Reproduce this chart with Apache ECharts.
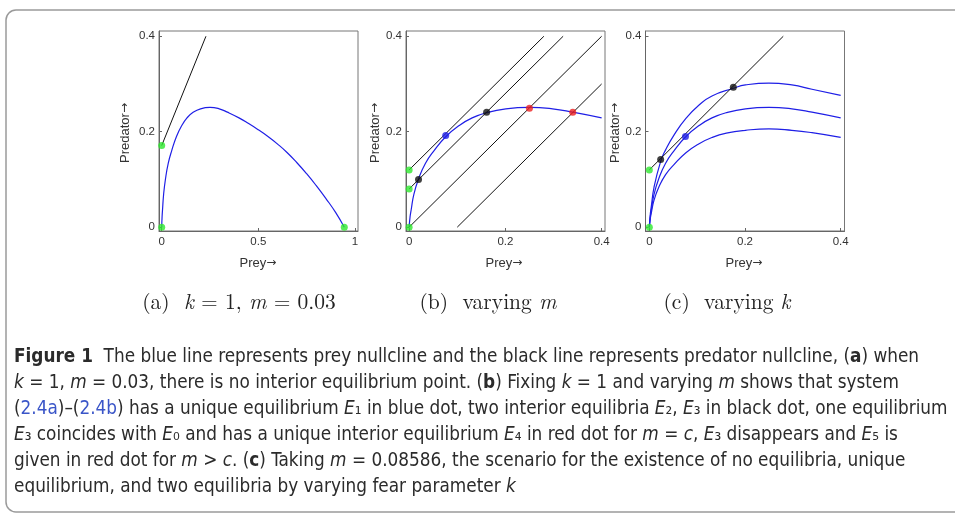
<!DOCTYPE html>
<html>
<head>
<meta charset="utf-8">
<script src="https://cdn.jsdelivr.net/npm/echarts@6/dist/echarts.min.js"></script>
<style>
html, body { margin: 0; padding: 0; background: #fff; }
#main { width: 955px; height: 514px; }
</style>
</head>
<body>
<div id="main"></div>
<script>
// tick values
var ticksXA = [0, 0.5, 1];
var ticksXBC = [0, 0.2, 0.4];
var ticksY = [0, 0.2, 0.4];

// prey nullclines
var preyK1 = [[0, 0], [0.002, 0.022], [0.0042, 0.036], [0.0097, 0.068], [0.0195, 0.101], [0.034, 0.134],
  [0.0515, 0.160], [0.0765, 0.190], [0.104, 0.213], [0.131, 0.229], [0.161, 0.240], [0.201, 0.248],
  [0.25, 0.251], [0.298, 0.248], [0.34, 0.241], [0.4, 0.229], [0.45, 0.217], [0.5, 0.204], [0.55, 0.190],
  [0.6, 0.174], [0.65, 0.156], [0.7, 0.135], [0.75, 0.112], [0.8, 0.087], [0.85, 0.060], [0.9, 0.031], [0.945, 0]];
var preyKLow = [[0, 0], [0.002, 0.027], [0.0042, 0.044], [0.0097, 0.083], [0.0237, 0.138], [0.034, 0.162],
  [0.0515, 0.193], [0.0765, 0.228], [0.104, 0.256], [0.131, 0.275], [0.1756, 0.291], [0.201, 0.298],
  [0.25, 0.302], [0.298, 0.298], [0.34, 0.289], [0.4, 0.276]];
var preyKHigh = [[0, 0], [0.002, 0.018], [0.0042, 0.030], [0.0097, 0.056], [0.0195, 0.083], [0.034, 0.110],
  [0.0515, 0.131], [0.0765, 0.156], [0.104, 0.175], [0.131, 0.188], [0.161, 0.197], [0.201, 0.203],
  [0.25, 0.206], [0.298, 0.203], [0.34, 0.198], [0.4, 0.188]];

// predator nullclines (end points)
var predA = [[0, 0.171], [0.229, 0.4]];
var predB = [
  [[0, 0.12], [0.28, 0.4]],
  [[0, 0.08], [0.32, 0.4]],
  [[0, 0], [0.4, 0.4]],
  [[0.1, 0], [0.4, 0.3]]
];
var predC = [[0, 0.12], [0.28, 0.4]];

// equilibrium dots
var greenA = [[0, 0.171], [0, 0], [0.945, 0]];
var greenB = [[0, 0.12], [0, 0.08], [0, 0]];
var blueB = [[0.076, 0.192]];
var blackB = [[0.0195, 0.100], [0.161, 0.241]];
var redB = [[0.25, 0.249], [0.34, 0.241]];
var greenC = [[0, 0.12], [0, 0]];
var blueC = [[0.0755, 0.19]];
var blackC = [[0.0237, 0.142], [0.1756, 0.293]];

var BLUE = '#1f1fe6', GREEN = '#2ee82e', RED = '#ee2020', BLACK = '#111';
var SANS = '"Liberation Sans", Arial, sans-serif';
var SERIF = '"Latin Modern Roman", "DejaVu Serif", "Liberation Serif", serif';
var CAP = '"Liberation Sans Narrow", "DejaVu Sans Condensed", "Noto Sans", sans-serif';
var CAPSIZE = 18.8;

var chart = echarts.init(document.getElementById('main'));

function mkGrid(left) {
  return { left: left, top: 31, width: 199, height: 200, show: true, borderColor: '#777', borderWidth: 1 };
}
function mkAxis(dim, idx, min, max, ticks) {
  return {
    type: 'value', gridIndex: idx, min: min, max: max,
    axisLine: { show: true, onZero: false, lineStyle: { color: '#666', width: 1 } },
    axisTick: { show: true, inside: true, length: 3, customValues: ticks, lineStyle: { color: '#666' } },
    axisLabel: {
      customValues: ticks, margin: dim === 'x' ? 5 : 4, color: '#333', fontSize: 11.5, fontFamily: SANS,
      formatter: function (v) { return String(v); }
    },
    splitLine: { show: false }
  };
}
function curve(idx, data) {
  return { type: 'line', xAxisIndex: idx, yAxisIndex: idx, data: data, showSymbol: false, smooth: 0.5,
    lineStyle: { color: BLUE, width: 1.2 }, silent: true, z: 2 };
}
function seg(idx, data) {
  return { type: 'line', xAxisIndex: idx, yAxisIndex: idx, data: data, showSymbol: false,
    lineStyle: { color: BLACK, width: 1 }, silent: true, z: 3 };
}
function dots(idx, data, color) {
  return { type: 'scatter', xAxisIndex: idx, yAxisIndex: idx, data: data, symbolSize: 7,
    itemStyle: { color: color }, silent: true, z: 5 };
}
function upTo(data, xmax) {
  return data.filter(function (p) { return p[0] <= xmax; });
}

var series = [
  curve(0, preyK1), seg(0, predA), dots(0, greenA, GREEN),
  curve(1, upTo(preyK1, 0.4))
];
predB.forEach(function (l) { series.push(seg(1, l)); });
series.push(dots(1, greenB, GREEN), dots(1, blueB, BLUE), dots(1, blackB, BLACK), dots(1, redB, RED));
series.push(curve(2, preyKLow), curve(2, upTo(preyK1, 0.4)), curve(2, preyKHigh), seg(2, predC),
  dots(2, greenC, GREEN), dots(2, blueC, BLUE), dots(2, blackC, BLACK));

var nameRich = { a: { fontFamily: '"DejaVu Sans", sans-serif', fontSize: 12, fill: '#333' } };
function axisName(x, y, text, vertical) {
  return { type: 'text', x: x, y: y, rotation: vertical ? Math.PI / 2 : 0,
    style: { text: text + '{a|→}', rich: nameRich, fill: '#333', font: '13px ' + SANS, align: 'center', verticalAlign: 'middle' } };
}
var capRich = {
  b: { fontWeight: 'bold', fontFamily: CAP, fontSize: CAPSIZE, fill: '#2b2b2b' },
  i: { fontStyle: 'italic', fontFamily: CAP, fontSize: CAPSIZE, fill: '#2b2b2b' },
  l: { fontFamily: CAP, fontSize: CAPSIZE, fill: '#3a55c8' }
};
var capLines = [
  '{b|Figure 1}  The blue line represents prey nullcline and the black line represents predator nullcline, ({b|a}) when',
  '{i|k} = 1, {i|m} = 0.03, there is no interior equilibrium point. ({b|b}) Fixing {i|k} = 1 and varying {i|m} shows that system',
  '({l|2.4a})–({l|2.4b}) has a unique equilibrium {i|E}₁ in blue dot, two interior equilibria {i|E}₂, {i|E}₃ in black dot, one equilibrium',
  '{i|E}₃ coincides with {i|E}₀ and has a unique interior equilibrium {i|E}₄ in red dot for {i|m} = {i|c}, {i|E}₃ disappears and {i|E}₅ is',
  'given in red dot for {i|m} > {i|c}. ({b|c}) Taking {i|m} = 0.08586, the scenario for the existence of no equilibria, unique',
  'equilibrium, and two equilibria by varying fear parameter {i|k}'
];
var capY = [357, 383, 409, 435, 461, 487];

var graphics = [
  { type: 'rect', shape: { x: 6, y: 10, width: 1000, height: 502, r: 10 },
    style: { fill: 'none', stroke: '#9a9a9a', lineWidth: 1.5 }, z: -1 },
  axisName(125, 133, 'Predator', true), axisName(375, 133, 'Predator', true), axisName(615, 133, 'Predator', true),
  axisName(258, 263, 'Prey'), axisName(504, 263, 'Prey'), axisName(744, 263, 'Prey')
];
var subRich = { i: { fontStyle: 'italic', fontFamily: SERIF, fontSize: 21.5, fill: '#222' } };
[[239, '(a)  {i|k} = 1, {i|m} = 0.03'], [488, '(b)  varying {i|m}'], [727, '(c)  varying {i|k}']].forEach(function (s) {
  graphics.push({ type: 'text', x: s[0], y: 302,
    style: { text: s[1], rich: subRich, font: '21.5px ' + SERIF, fill: '#222', align: 'center', verticalAlign: 'middle' } });
});
capLines.forEach(function (t, i) {
  graphics.push({ type: 'text', x: 14, y: capY[i],
    style: { text: t, rich: capRich, fontFamily: CAP, fontSize: CAPSIZE, fill: '#2b2b2b', align: 'left', verticalAlign: 'middle' } });
});

chart.setOption({
  animation: false,
  grid: [mkGrid(159), mkGrid(406), mkGrid(645.5)],
  xAxis: [mkAxis('x', 0, -0.014, 1.016, ticksXA), mkAxis('x', 1, -0.0065, 0.407, ticksXBC), mkAxis('x', 2, -0.008, 0.408, ticksXBC)],
  yAxis: [mkAxis('y', 0, -0.008, 0.411, ticksY), mkAxis('y', 1, -0.008, 0.411, ticksY), mkAxis('y', 2, -0.008, 0.411, ticksY)],
  series: series,
  graphic: graphics
});
</script>
</body>
</html>
